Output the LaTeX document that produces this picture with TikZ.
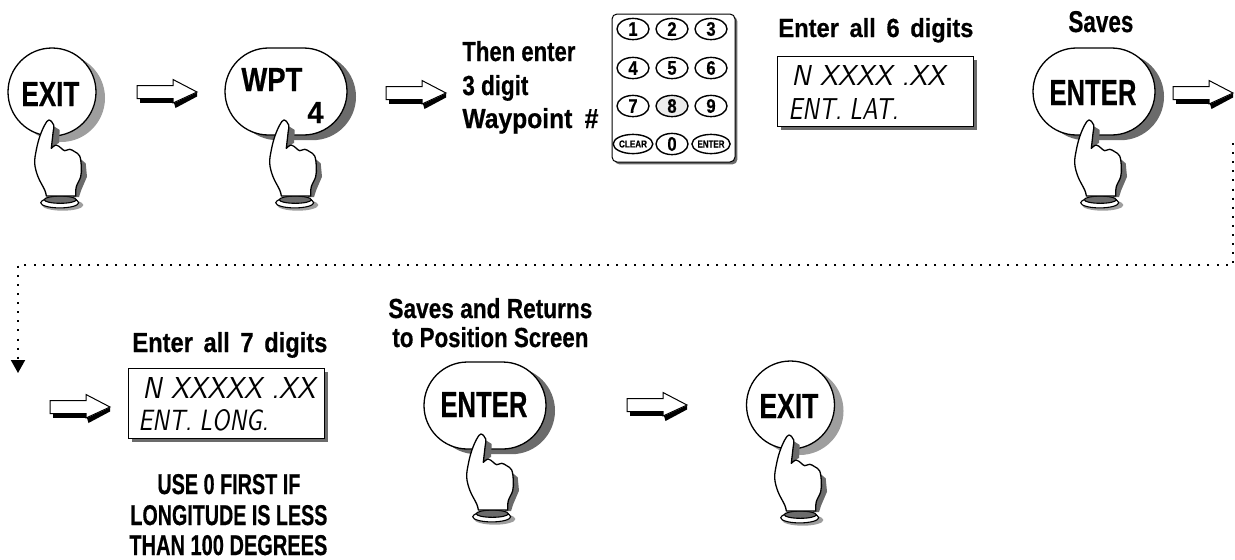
\documentclass[tikz,border=0pt]{standalone}
\usepackage{graphicx}
\usepackage{xcolor}
\usepackage{fontspec}
\setmainfont[BoldFeatures={FakeBold=0.6}]{Liberation Sans}
\usetikzlibrary{shadows,shapes.geometric,shapes.misc,arrows.meta}

\definecolor{shadedark}{gray}{0.42}
\definecolor{shadelight}{gray}{0.62}
\newlength\unitpx
\setlength\unitpx{.5pt}
\newcommand{\fitlabel}[3]{\resizebox{#1\unitpx}{#2\unitpx}{#3}}
\newcommand{\keydigit}[1]{\scalebox{.85}[1]{#1}}

\tikzset{
  labeltext/.style={anchor=base west,inner sep=0pt,font=\bfseries},
  lcdtext/.style={anchor=base west,inner sep=0pt,font=\sffamily\itshape},
  roundbtn/.style={circle,draw,fill=white,line width=.65pt,inner sep=0pt,minimum size=44pt},
  longbtn/.style={rounded rectangle,draw,fill=white,line width=.65pt,inner sep=0pt,minimum width=61pt,minimum height=43.5pt},
  lightshade/.style={copy shadow={shadow xshift=4.5pt,shadow yshift=-3pt,fill=shadelight,draw=none}},
  darkshade/.style={copy shadow={shadow xshift=4.5pt,shadow yshift=-2.6pt,fill=shadedark,draw=none}},
  lcdbox/.style={rectangle,draw,fill=white,line width=.5pt,inner sep=0pt,copy shadow={shadow xshift=2pt,shadow yshift=-2pt,fill=shadedark,draw=none}},
  keybtn/.style={ellipse,draw,fill=white,line width=.7pt,inner sep=0pt,minimum width=16pt,minimum height=10.6pt,font=\bfseries\fontsize{9.8}{9.8}\selectfont},
  dotline/.style={line width=1pt,dash pattern=on 1pt off 3.55pt},
  handpic/.pic={
    % shadows of cuff, hand and finger
    \fill[shadelight] (13.7,85) ellipse [x radius=20.7,y radius=5.7];
    \fill[shadedark] (30.7,38.3) -- (36.7,43.3) -- (38,56.7) -- (32.3,70) -- (30,77) -- (24,77) -- cycle;
    \fill[shadedark] (3,5) -- (10.7,10) -- (10,23) -- (5.7,25) -- (2,29) -- cycle;
    % cuff
    \draw[fill=white,line width=.55pt] (10.7,82.7) ellipse [x radius=19,y radius=5.2];
    \draw[fill=shadedark,line width=.55pt] (11.3,79.7) ellipse [x radius=16,y radius=3.6];
    % hand
    \draw[fill=white,line width=.65pt,line join=round]
      plot[smooth,tension=.6] coordinates {(-2.7,76) (-4.3,70) (-11,56.7) (-14.3,43.3) (-12.7,30) (-9.3,16.7) (-4.3,5) (0,0) (4.7,5) (4,13.3) (2.3,28.3)}
      -- plot[smooth,tension=.6] coordinates {(2.3,28.3) (7.3,25) (12.3,28.3) (15.7,30.7) (20.7,29.3) (25.7,31.7) (30.7,36) (32.3,46.7) (31.7,56.7) (27.3,66.7) (26.7,76)}
      -- cycle;
  },
  blockarrow/.pic={
    \fill[black] (3,6) rectangle (37,10.5);
    \fill[black] (37,11) -- (60,0.5) -- (60,4.5) -- (38.5,16) -- cycle;
    \draw[fill=white,line width=.5pt,line join=miter] (0,-6.5) -- (36,-6.5) -- (36,-12.5) -- (60,0) -- (36,11) -- (36,6.5) -- (0,6.5) -- cycle;
  }
}

\begin{document}
\begin{tikzpicture}[x=.5pt,y=-.5pt]
  \useasboundingbox (0,0) rectangle (1235,559);

  % top row
  \node[roundbtn,lightshade] (exitA) at (52,92) {};
  \node[labeltext] (exitAtext) at (21,106) {\fitlabel{58}{24}{EXIT}};
  \pic at (49,120) {handpic};
  \pic at (137,92) {blockarrow};

  \node[longbtn,darkshade] (wpt) at (286,91.5) {};
  \node[labeltext] (wpttext) at (241,91) {\fitlabel{61}{23}{WPT}};
  \node[labeltext] (wptfour) at (307,123) {\fitlabel{16}{21}{4}};
  \pic at (284,120) {handpic};
  \pic at (386,93) {blockarrow};

  \node[labeltext] (thenenter) at (462,61) {\fitlabel{113}{20}{Then enter}};
  \node[labeltext] (threedigit) at (462,95) {\fitlabel{66}{20}{3 digit}};
  \node[labeltext] (waypoint) at (462,128) {\fitlabel{136}{20}{Waypoint\hspace{.5em}\#}};

  % keypad
  \node[rectangle,rounded corners=2.5pt,draw,fill=white,line width=.5pt,inner sep=0pt,minimum width=61.5pt,minimum height=74pt,
    copy shadow={shadow xshift=1.2pt,shadow yshift=-1.2pt,fill=shadedark,draw=none}] (keypad) at (673.5,88) {};
  \node[keybtn] (keyone) at (633,29) {\keydigit{1}};
  \node[keybtn] (keytwo) at (672,29) {\keydigit{2}};
  \node[keybtn] (keythree) at (711,29) {\keydigit{3}};
  \node[keybtn] (keyfour) at (633,68) {\keydigit{4}};
  \node[keybtn] (keyfive) at (672,68) {\keydigit{5}};
  \node[keybtn] (keysix) at (711,68) {\keydigit{6}};
  \node[keybtn] (keyseven) at (633,106) {\keydigit{7}};
  \node[keybtn,fill=gray!15] (keyeight) at (672,106) {\keydigit{8}};
  \node[keybtn] (keynine) at (711,106) {\keydigit{9}};
  \node[keybtn,minimum height=9.6pt] (keyclear) at (633,144) {\fitlabel{28}{7}{CLEAR}};
  \node[keybtn] (keyzero) at (672,144) {\keydigit{0}};
  \node[keybtn,minimum height=9.6pt] (keyenter) at (711,144) {\fitlabel{27}{7}{ENTER}};

  % latitude display
  \node[labeltext] (entersix) at (778,37) {\fitlabel{195}{19}{Enter\hspace{.45em}all\hspace{.45em}6\hspace{.45em}digits}};
  \node[lcdbox,minimum width=98pt,minimum height=35pt] (lcdlat) at (875,91) {};
  \node[lcdtext] (lcdlatA) at (791,85) {\fitlabel{154}{20}{N XXXX .XX}};
  \node[lcdtext] (lcdlatB) at (788,119) {\fitlabel{110}{21}{ENT. LAT.}};

  \node[labeltext] (savesA) at (1068,32) {\fitlabel{65}{21}{Saves}};
  \node[longbtn,darkshade] (enterA) at (1094,91.5) {};
  \node[labeltext] (enterAtext) at (1049,105) {\fitlabel{87}{25}{ENTER}};
  \pic at (1089,120) {handpic};
  \pic at (1173,93) {blockarrow};

  % dotted link between the rows
  \coordinate (dotstart) at (1233,143);
  \coordinate (dotright) at (1233,265);
  \coordinate (dotleft) at (18,265);
  \coordinate (dotdrop) at (18,373);
  \draw[dotline,-{Triangle[length=6.5pt,width=7pt]}] (dotstart) -- (dotright) -- (dotleft) -- (dotdrop);

  % bottom row
  \pic at (50,407) {blockarrow};
  \node[labeltext] (enterseven) at (132,352) {\fitlabel{195}{20}{Enter\hspace{.45em}all\hspace{.45em}7\hspace{.45em}digits}};
  \node[lcdbox,minimum width=98pt,minimum height=35pt] (lcdlong) at (226,403) {};
  \node[lcdtext] (lcdlongA) at (142,398) {\fitlabel{173}{21}{N XXXXX .XX}};
  \node[lcdtext] (lcdlongB) at (138,430) {\fitlabel{130}{21}{ENT. LONG.}};
  \node[labeltext] (useA) at (157,494) {\fitlabel{143}{20}{USE 0 FIRST IF}};
  \node[labeltext] (useB) at (130,525) {\fitlabel{197}{20}{LONGITUDE IS LESS}};
  \node[labeltext] (useC) at (129,555) {\fitlabel{198}{20}{THAN 100 DEGREES}};

  \node[labeltext] (savesB) at (388,318) {\fitlabel{204}{20}{Saves and Returns}};
  \node[labeltext] (savesC) at (392,347) {\fitlabel{196}{20}{to Position Screen}};
  \node[longbtn,darkshade] (enterB) at (485,405.5) {};
  \node[labeltext] (enterBtext) at (440,417) {\fitlabel{87}{25}{ENTER}};
  \pic at (481,434) {handpic};
  \pic at (627,405) {blockarrow};

  \node[roundbtn,lightshade] (exitB) at (790.5,405) {};
  \node[labeltext] (exitBtext) at (759,418) {\fitlabel{59}{24}{EXIT}};
  \pic at (789,435) {handpic};
\end{tikzpicture}
\end{document}
